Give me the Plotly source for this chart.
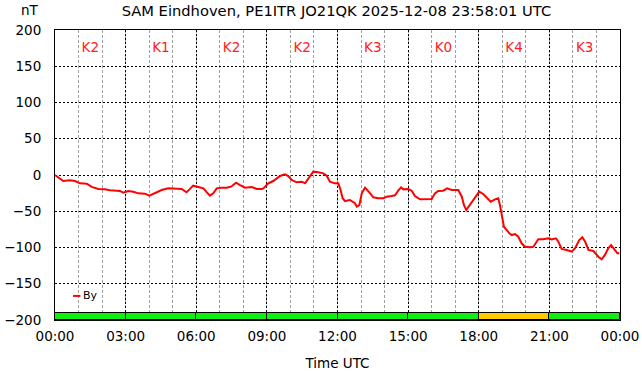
import plotly.graph_objects as go

# ---- data ----
hours = [0.00, 0.21, 0.35, 0.64, 0.85, 1.06, 1.35, 1.56, 1.84, 2.12, 2.34, 2.76, 2.90,
         3.11, 3.33, 3.54, 3.82, 4.01, 4.25, 4.43, 4.53, 4.81, 5.10, 5.38, 5.59, 5.73,
         5.87, 6.09, 6.30, 6.49, 6.58, 6.72, 6.87, 7.08, 7.29, 7.48, 7.69, 7.86, 8.07,
         8.36, 8.57, 8.78, 8.85, 9.06, 9.27, 9.56, 9.77, 9.91, 10.05, 10.27, 10.48,
         10.62, 10.76, 10.97, 11.18, 11.40, 11.54, 11.68, 11.89, 12.03, 12.11, 12.22,
         12.32, 12.53, 12.74, 12.82, 12.93, 13.03, 13.17, 13.27, 13.38, 13.52, 13.73,
         13.95, 14.09, 14.30, 14.44, 14.58, 14.70, 14.80, 15.01, 15.15, 15.29, 15.50,
         15.72, 16.00, 16.14, 16.28, 16.49, 16.66, 16.85, 17.13, 17.28, 17.37, 17.47,
         17.60, 17.84, 18.02, 18.19, 18.34, 18.51, 18.69, 18.83, 18.90, 19.00, 19.07,
         19.19, 19.30, 19.40, 19.54, 19.68, 19.82, 19.96, 20.18, 20.32, 20.53, 20.74,
         20.95, 21.10, 21.28, 21.38, 21.52, 21.74, 21.95, 22.09, 22.27, 22.40, 22.52,
         22.66, 22.87, 23.08, 23.22, 23.36, 23.50, 23.62, 23.74, 23.89, 23.97]
by_nT = [0.0, -4.6, -8.3, -7.4, -8.3, -11.5, -12.0, -16.5, -19.3, -19.8, -21.0, -22.0, -24.4,
         -22.0, -23.0, -25.3, -25.7, -28.5, -24.8, -22.0, -20.7, -18.4, -19.3, -19.3, -23.9, -19.3,
         -14.7, -16.5, -18.4, -25.3, -28.5, -25.3, -18.4, -17.5, -17.5, -16.1, -10.6, -13.8, -17.5,
         -16.5, -19.3, -19.3, -18.4, -11.5, -8.3, -1.4, 0.9, -1.4, -6.9, -10.1, -9.2,
         -11.5, -4.6, 4.6, 3.7, 2.3, -1.0, -9.2, -11.5, -11.5, -18.4, -32.0,
         -36.0, -34.5, -39.0, -43.7, -41.4, -25.3, -17.5, -20.7, -25.0, -30.8, -32.0,
         -32.0, -29.9, -29.0, -28.0, -21.6, -17.0, -19.8, -19.3, -21.6, -29.0, -33.6,
         -33.6, -33.1, -25.3, -22.0, -21.6, -18.4, -20.7, -20.7, -29.9, -41.4, -48.3,
         -42.0, -32.0, -23.0, -26.2, -30.8, -36.8, -33.6, -32.0, -41.4, -57.5, -71.3,
         -75.9, -80.4, -82.8, -81.4, -85.1, -94.2, -98.9, -99.7, -98.9, -88.7, -88.7,
         -87.3, -89.0, -87.3, -92.0, -102.0, -103.4, -105.8, -101.0, -89.7, -85.9, -92.0,
         -103.4, -104.8, -112.7, -116.3, -110.3, -101.0, -96.6, -102.0, -108.0, -108.0]

k_centers = [1.5, 4.5, 7.5, 10.5, 13.5, 16.5, 19.5, 22.5]
k_index = [2, 1, 2, 2, 3, 0, 4, 3]
k_label_level = 174
k_bar_base = -200
k_bar_height = 10

x_tick_vals = [0, 3, 6, 9, 12, 15, 18, 21, 24]
x_tick_text = ["00:00", "03:00", "06:00", "09:00", "12:00", "15:00", "18:00", "21:00", "00:00"]
y_tick_vals = [-200, -150, -100, -50, 0, 50, 100, 150, 200]

title_text = "SAM Eindhoven, PE1ITR JO21QK 2025-12-08 23:58:01 UTC"

FONT = "DejaVu Sans"

def k_color(k):
    return "#ffcc00" if k >= 4 else "#11ee11"

fig = go.Figure()

fig.add_trace(go.Bar(
    x=k_centers, y=[k_bar_height] * len(k_index), base=k_bar_base, width=3,
    marker=dict(color=[k_color(k) for k in k_index], line=dict(color="black", width=1)),
    showlegend=False, hoverinfo="skip",
))

fig.add_trace(go.Scatter(
    x=hours, y=by_nT, mode="lines", name="By",
    line=dict(color="#ff0000", width=2), showlegend=False,
))

fig.add_trace(go.Scatter(
    x=k_centers, y=[k_label_level] * len(k_index), mode="text",
    text=["K%d" % k for k in k_index],
    textfont=dict(family=FONT, size=13.5, color="#ff2020"),
    showlegend=False, hoverinfo="skip",
))

# legend (small line + text)
fig.add_shape(type="line", xref="paper", yref="paper", x0=0.032, x1=0.045, y0=0.083, y1=0.083,
              line=dict(color="#ff0000", width=2))
fig.add_annotation(xref="paper", yref="paper", x=0.046, y=0.083, text="By", showarrow=False,
                   xanchor="left", yanchor="middle", font=dict(family=FONT, size=11, color="black"))

fig.add_annotation(xref="paper", yref="paper", x=-0.045, y=1.0, yshift=10, text="nT",
                   showarrow=False, xanchor="center", yanchor="bottom",
                   font=dict(family=FONT, size=13.5, color="black"))

fig.update_layout(
    width=642, height=376,
    margin=dict(l=55, r=22, t=30, b=56, autoexpand=False),
    paper_bgcolor="white", plot_bgcolor="white",
    font=dict(family=FONT, size=13.5, color="black"),
    title=dict(text=title_text, x=0.524, xanchor="center", y=0.985, yanchor="top",
               font=dict(family=FONT, size=14.7, color="black")),
    bargap=0,
)

fig.update_xaxes(
    range=[0, 24], tickvals=x_tick_vals, ticktext=x_tick_text, automargin=False,
    showline=True, linecolor="black", linewidth=1, mirror=True,
    showgrid=True, gridcolor="black", gridwidth=1, griddash="2px,2px",
    minor=dict(dtick=1, showgrid=True, gridcolor="#a0a0a0", gridwidth=1, griddash="3px,2px"),
    zeroline=False, ticks="", ticklabelstandoff=4,
    title=dict(text="Time UTC", standoff=15, font=dict(family=FONT, size=13.5)),
)
fig.update_yaxes(
    range=[-200, 200], tickvals=y_tick_vals, automargin=False,
    showline=True, linecolor="black", linewidth=1, mirror=True,
    showgrid=True, gridcolor="black", gridwidth=1, griddash="2px,2px",
    zeroline=False, ticks="", ticklabelstandoff=10,
)

fig.write_html("out.html", config={"displayModeBar": False},
               post_script="document.body.style.margin='0';document.body.style.overflow='hidden';")
